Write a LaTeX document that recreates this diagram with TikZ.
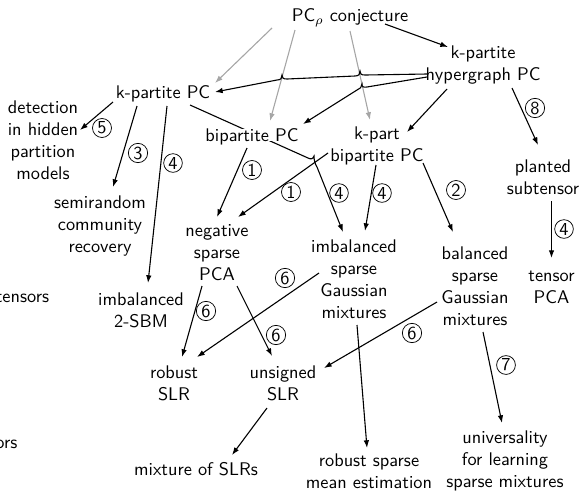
\documentclass[tikz,border=0pt]{standalone}
\usetikzlibrary{arrows.meta,calc}
\pgfdeclarelayer{bg}
\pgfsetlayers{bg,main}
\begin{document}
\begin{tikzpicture}[x=0.546pt,y=-0.546pt,
  every node/.style={font=\sffamily, align=center, inner sep=0pt},
  box/.style={fill=white, text depth=0pt},
  num/.style={draw, circle, inner sep=0.7pt, line width=0.4pt, font=\sffamily},
  arr/.style={-{Latex[length=4.2pt,width=3pt]}, line width=0.6pt},
  garr/.style={arr, draw=black!35}]
\useasboundingbox (0,0) rectangle (581,491);
% nodes
\node[box] (conj) at (350,15) {PC$_\rho$ conjecture};
\node (hyper) at (483,65) {k-partite\\hypergraph PC};
\node (kpc) at (163,94) {k-partite PC};
\node (detect) at (43,140) {detection\\in hidden\\partition\\models};
\node[box] (bpc) at (252,135) {bipartite PC};
\node (kpart) at (377,145.5) {k-part\\bipartite PC};
\node (planted) at (543,177) {planted\\subtensor};
\node (semi) at (100,226) {semirandom\\community\\recovery};
\node (negpca) at (217,253) {negative\\sparse\\PCA};
\node (imbgm) at (354,279) {imbalanced\\sparse\\Gaussian\\mixtures};
\node (balgm) at (475,286.5) {balanced\\sparse\\Gaussian\\mixtures};
\node (tpca) at (551.5,287.5) {tensor\\PCA};
\node (sbm) at (141,310) {imbalanced\\2-SBM};
\node[anchor=west] (tens) at (-4.5,297) {tensors};
\node (robslr) at (174,383.5) {robust\\SLR};
\node (unslr) at (283,383.5) {unsigned\\SLR};
\node (mix) at (196,469.5) {mixture of SLRs};
\node (rsme) at (369,471.5) {robust sparse\\mean estimation};
\node (univ) at (505,461) {universality\\for learning\\sparse mixtures};
\node[anchor=west] (ors) at (-5,444) {ors};
% labels
\node[num] (n5) at (102,128) {5};
\node[num] (n3) at (138,153) {3};
\node[num] (n4a) at (173,163) {4};
\node[num] (n1a) at (252,170) {1};
\node[num] (n1b) at (291,192) {1};
\node[num] (n4b) at (339,193) {4};
\node[num] (n4c) at (382,193) {4};
\node[num] (n2) at (456,190) {2};
\node[num] (n8) at (535,108) {8};
\node[num] (n4d) at (564,229) {4};
\node[num] (n6a) at (285,278) {6};
\node[num] (n6b) at (206,311) {6};
\node[num] (n6c) at (276,335) {6};
\node[num] (n6d) at (412,333) {6};
\node[num] (n7) at (506,365) {7};
% edges
\begin{pgfonlayer}{bg}
\draw[garr] ($(conj)+(-78,13)$) -- ($(kpc)+(52,-11)$);
\draw[garr] ($(conj)+(-55,15)$) -- ($(bpc)+(18,-14)$);
\draw[garr] ($(conj)+(0,16)$) -- ($(kpart)+(-7,-25.5)$);
\draw[arr] ($(conj)+(35,9)$) -- ($(hyper)+(-35,-18)$);
\draw[arr] ($(hyper)+(-56,9)$) -- (365,75) .. controls (361,75) and (360,74) .. (360,71)
   .. controls (360,74) and (359,76) .. (355,76) -- (287,79)
   .. controls (283,79) and (282,78) .. (282,75) .. controls (282,78) and (281,80) .. (277,80)
   -- ($(kpc)+(52,-2)$);
\draw[arr] ($(hyper)+(-56,12)$) -- (367,87) .. controls (363,87.5) and (362,87) .. (362,84)
   .. controls (362,87) and (360,89) .. (357,90) -- ($(bpc)+(51,-11)$);
\draw[arr] ($(kpc)+(27,11)$) -- (308,158) .. controls (311,159.5) and (313,159) .. (314,156)
   .. controls (314,160) and (315,164) .. (317,167) -- ($(imbgm)+(-11,-47)$);
\draw[arr] ($(bpc)+(-5,13)$) -- ($(negpca)+(0,-36)$);
\draw[arr] ($(kpart)+(-49,7.5)$) -- ($(negpca)+(21,-36)$);
\draw[arr] ($(kpart)+(-1,19.5)$) -- ($(imbgm)+(11,-48)$);
\draw[arr] ($(kpart)+(46,17.5)$) -- ($(balgm)+(-22,-54.5)$);
\draw[arr] ($(hyper)+(-36,24)$) -- ($(kpart)+(30,-13.5)$);
\draw[arr] ($(hyper)+(29,23)$) -- ($(planted)+(-5,-32)$);
\draw[arr] ($(planted)+(8.5,24)$) -- ($(tpca)+(0,-29.5)$);
\draw[arr] ($(kpc)+(-50,8)$) -- ($(detect)+(37,-10)$);
\draw[arr] ($(kpc)+(-26,12)$) -- ($(semi)+(13,-39)$);
\draw[arr] ($(kpc)+(4,12)$) -- ($(sbm)+(7,-27)$);
\draw[arr] ($(negpca)+(-15,33)$) -- ($(robslr)+(8,-26.5)$);
\draw[arr] ($(negpca)+(20,33)$) -- ($(unslr)+(-11,-27.5)$);
\draw[arr] ($(imbgm)+(-35,-6)$) -- ($(robslr)+(23,-26.5)$);
\draw[arr] ($(balgm)+(-38,15.5)$) -- ($(unslr)+(41,-15.5)$);
\draw[arr] ($(imbgm)+(3,46)$) -- ($(rsme)+(-2,-23.5)$);
\draw[arr] ($(balgm)+(8,45.5)$) -- ($(univ)+(-3,-38)$);
\draw[arr] ($(unslr)+(-16,24.5)$) -- ($(mix)+(36,-14.5)$);
\end{pgfonlayer}
\end{tikzpicture}
\end{document}
